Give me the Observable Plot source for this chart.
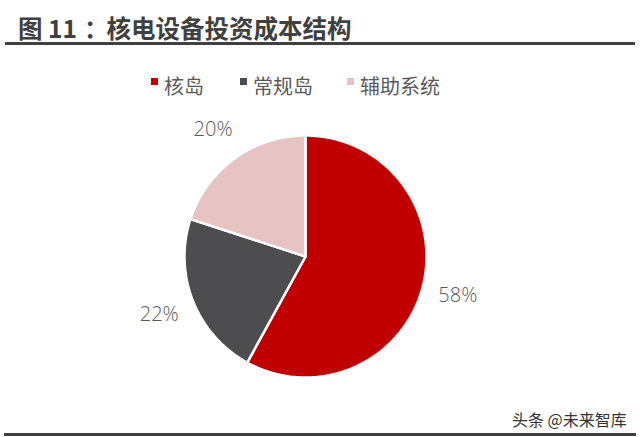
<!DOCTYPE html>
<html>
<head>
<meta charset="utf-8">
<script src="https://cdn.jsdelivr.net/npm/d3@7"></script>
<script src="https://cdn.jsdelivr.net/npm/@observablehq/plot@0.6"></script>
<style>
  html, body { margin: 0; padding: 0; background: #ffffff; }
  #wrap { position: relative; width: 640px; height: 437px; overflow: hidden; background: #fff; }
  #wrap svg { position: absolute; left: 0; top: 0; }
  .abs { position: absolute; white-space: nowrap; line-height: 1; }
  #title { left: 18px; top: 10px; font: bold 24.5px "Noto Sans CJK SC", sans-serif; color: #404040; }
  #title .colon { margin: 0 -2px 0 7px; }
  .rule { position: absolute; background: #404040; }
  .leg { top: 71px; font: 20px "Noto Sans CJK SC", sans-serif; color: #595959; }
  .sw { position: absolute; top: 78px; width: 7px; height: 7px; }
  #mark { left: 512px; top: 407px; font: 16px "Noto Sans CJK SC", sans-serif; color: #333; }
</style>
</head>
<body>
<div id="wrap">
  <div id="title" class="abs">图 11<span class="colon">：</span>核电设备投资成本结构</div>
  <div class="rule" style="left:5px;top:42px;width:630px;height:3px"></div>
  <div id="legend"></div>
  <div id="mark" class="abs">头条 @未来智库</div>
  <div class="rule" style="left:4px;top:433px;width:632px;height:3px"></div>
</div>
<script>
// ---- data ----
const categories = ["核岛", "常规岛", "辅助系统"];
const values = [58, 22, 20];
const labels = ["58%", "22%", "20%"];
const colors = ["#c00000", "#4d4d4f", "#e8c3c3"];
const legendX = [151, 240, 347];

// ---- geometry from values ----
const total = d3.sum(values);
const slicePts = [];
const labelRows = [];
let a0 = 0;
categories.forEach((cat, i) => {
  const a1 = a0 + values[i] / total * 2 * Math.PI;
  slicePts.push({cat, x: 0, y: 0});
  const n = Math.max(2, Math.ceil((a1 - a0) / (Math.PI / 180)));
  for (let k = 0; k <= n; k++) {
    const a = a0 + (a1 - a0) * k / n;
    slicePts.push({cat, x: Math.sin(a), y: Math.cos(a)});
  }
  slicePts.push({cat, x: 0, y: 0});
  const m = (a0 + a1) / 2;
  labelRows.push({label: labels[i], x: 1.3 * Math.sin(m), y: 1.3 * Math.cos(m)});
  a0 = a1;
});

const chart = Plot.plot({
  width: 640,
  height: 437,
  marginLeft: 184,
  marginRight: 214,
  marginTop: 135,
  marginBottom: 60,
  x: {domain: [-1, 1], axis: null},
  y: {domain: [-1, 1], axis: null},
  color: {domain: categories, range: colors},
  style: {background: "transparent", overflow: "visible"},
  marks: [
    Plot.line(slicePts, {x: "x", y: "y", z: "cat", fill: "cat", stroke: "#ffffff", strokeWidth: 2.5, strokeLinejoin: "miter", curve: "linear"}),
    Plot.text(labelRows, {x: "x", y: "y", text: "label", fontSize: 20, fill: "#595959", fontFamily: "'Open Sans', 'Segoe UI', sans-serif", fontWeight: 300})
  ]
});
document.getElementById("wrap").insertBefore(chart, document.getElementById("wrap").firstChild);

// ---- legend (HTML) ----
const leg = document.getElementById("legend");
categories.forEach((cat, i) => {
  const sw = document.createElement("div");
  sw.className = "sw";
  sw.style.left = legendX[i] + "px";
  sw.style.background = colors[i];
  leg.appendChild(sw);
  const t = document.createElement("div");
  t.className = "abs leg";
  t.style.left = (legendX[i] + 13) + "px";
  t.textContent = cat;
  leg.appendChild(t);
});
</script>
</body>
</html>
